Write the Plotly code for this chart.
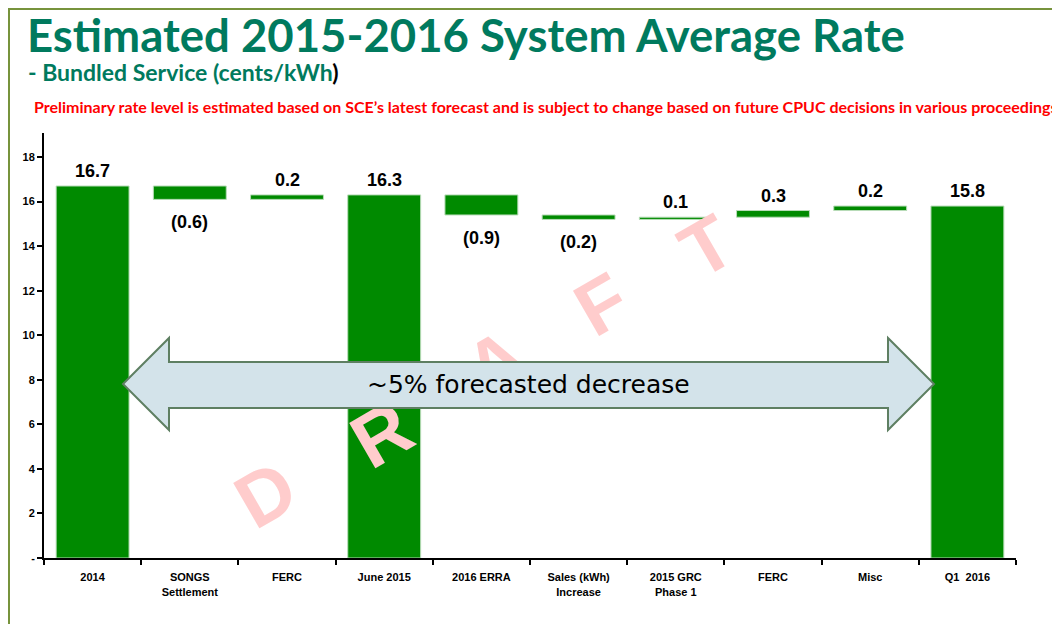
import plotly.graph_objects as go

# ---------------- data ----------------
categories = ["2014", "SONGS<br>Settlement", "FERC", "June 2015", "2016 ERRA",
              "Sales (kWh)<br>Increase", "2015 GRC<br>Phase 1", "FERC", "Misc", "Q1  2016"]
measures = ["absolute", "relative", "relative", "total", "relative",
            "relative", "relative", "relative", "relative", "total"]
values = [16.7, -0.6, 0.2, 0, -0.9, -0.2, 0.1, 0.3, 0.2, 0]
y_tick_vals = [0, 2, 4, 6, 8, 10, 12, 14, 16, 18]
y_tick_text = ["-", "2", "4", "6", "8", "10", "12", "14", "16", "18"]
watermark = ["D", "R", "A", "F", "T"]
arrow_text = "~5% forecasted decrease"
title = "Estimated 2015-2016 System Average Rate"
subtitle = "- Bundled Service (cents/kWh"
note = ("Preliminary rate level is estimated based on SCE\u2019s latest forecast and is subject "
        "to change based on future CPUC decisions in various proceedings")

# ---------------- geometry helpers (window pixel -> paper) ----------------
OFF = 8                      # page body margin
W, H = 1060 - OFF, 624 - OFF
L, R, T, B = 36, 44, 125, 66
PW, PH = W - L - R, H - T - B
X0 = OFF + L                 # window x of plot left
Y0 = OFF + H - B             # window y of plot bottom


def px(x):
    return (x - X0) / PW


def py(y):
    return (Y0 - y) / PH


GREEN = "#008A00"
EDGE = "#b8dcb8"
xs = list(range(len(categories)))

fig = go.Figure()
fig.add_trace(go.Waterfall(
    x=xs, y=values, measure=measures,
    increasing=dict(marker=dict(color=GREEN, line=dict(color=EDGE, width=1))),
    decreasing=dict(marker=dict(color=GREEN, line=dict(color=EDGE, width=1))),
    totals=dict(marker=dict(color=GREEN, line=dict(color=EDGE, width=1))),
    connector=dict(visible=False),
    hoverinfo="skip",
))

# value labels computed from the waterfall data
label_font = dict(family="Liberation Sans", size=18, color="black", weight="bold")
annotations = []
running = 0.0
for i, (m, v) in enumerate(zip(measures, values)):
    if m == "absolute":
        start, end = 0.0, v
        running = v
        delta = v
    elif m == "relative":
        start, end = running, running + v
        running = end
        delta = v
    else:
        start, end = 0.0, running
        delta = running
    if delta >= 0:
        annotations.append(dict(x=i, y=max(start, end), xref="x", yref="y",
                                text=f"{delta:.1f}", showarrow=False,
                                yanchor="bottom", yshift=3, font=label_font))
    else:
        annotations.append(dict(x=i, y=min(start, end), xref="x", yref="y",
                                text=f"({abs(delta):.1f})", showarrow=False,
                                yanchor="top", yshift=-11, font=label_font))

# titles
annotations.append(dict(x=px(25), y=py(34), xref="paper", yref="paper", xanchor="left", yanchor="middle",
                        text=f"<b>{title}</b>", showarrow=False,
                        font=dict(family="Lato", size=45.5, color="#007A5E")))
annotations.append(dict(x=px(26), y=py(72), xref="paper", yref="paper", xanchor="left", yanchor="middle",
                        text=f"<b>{subtitle}<span style='color:black'>)</span></b>", showarrow=False,
                        font=dict(family="Lato", size=23, color="#007A5E")))
annotations.append(dict(x=px(32), y=py(106), xref="paper", yref="paper", xanchor="left", yanchor="middle",
                        text=f"<b>{note}</b>", showarrow=False,
                        font=dict(family="Lato", size=16, color="#FF0000")))
# arrow text
annotations.append(dict(x=px(528), y=py(384), xref="paper", yref="paper", xanchor="center", yanchor="middle",
                        text=arrow_text, showarrow=False,
                        font=dict(family="DejaVu Sans", size=25, color="black")))

shapes = []
# frame
shapes.append(dict(type="rect", xref="paper", yref="paper",
                   x0=px(9), y0=py(9), x1=px(1080), y1=py(650),
                   line=dict(color="#77933C", width=2), fillcolor="rgba(0,0,0,0)", layer="above"))
# watermark letters
wm_pos = [(262, 488), (378, 428), (492, 356), (598, 298), (703, 240)]
for ch, (cx, cy) in zip(watermark, wm_pos):
    shapes.append(dict(type="rect", xref="paper", yref="paper",
                       x0=px(cx - 1), x1=px(cx + 1), y0=py(cy + 1), y1=py(cy - 1),
                       line=dict(width=0), fillcolor="rgba(0,0,0,0)", layer="above",
                       label=dict(text=ch, textangle=-30, textposition="middle center",
                                  font=dict(family="Liberation Sans", size=76, color="#FFCCCC", weight="bold"))))
# double arrow
pts = [(123, 384), (169, 338), (169, 362), (888, 362), (888, 338), (934, 384),
       (888, 430), (888, 408), (169, 408), (169, 430)]
path = "M " + " L ".join(f"{px(a):.5f},{py(b):.5f}" for a, b in pts) + " Z"
shapes.append(dict(type="path", xref="paper", yref="paper", path=path,
                   fillcolor="#D3E3EA", line=dict(color="#5E7F62", width=2), layer="above"))

tick_font = dict(family="Liberation Sans", size=11, color="black", weight="bold")
fig.update_layout(
    width=W, height=H,
    margin=dict(l=L, r=R, t=T, b=B),
    paper_bgcolor="white", plot_bgcolor="white",
    showlegend=False, waterfallgap=0.25,
    annotations=annotations, shapes=shapes,
    xaxis=dict(range=[-0.5, 9.5], tickmode="array", tickvals=xs, ticktext=categories,
               ticks="", showgrid=False, zeroline=False,
               showline=True, linecolor="black", linewidth=2,
               tickfont=tick_font, ticklabelstandoff=8,
               minor=dict(ticks="outside", ticklen=5, tickwidth=2, tickcolor="black",
                          tickmode="array", tickvals=[i - 0.5 for i in range(len(categories) + 1)],
                          showgrid=False),
               fixedrange=True),
    yaxis=dict(range=[0, 19.08], tickmode="array", tickvals=y_tick_vals, ticktext=y_tick_text,
               ticks="outside", ticklen=5, tickwidth=2, tickcolor="black",
               showgrid=False, zeroline=False,
               showline=True, linecolor="black", linewidth=2,
               tickfont=tick_font,
               fixedrange=True),
)

fig.write_html("out.html")
